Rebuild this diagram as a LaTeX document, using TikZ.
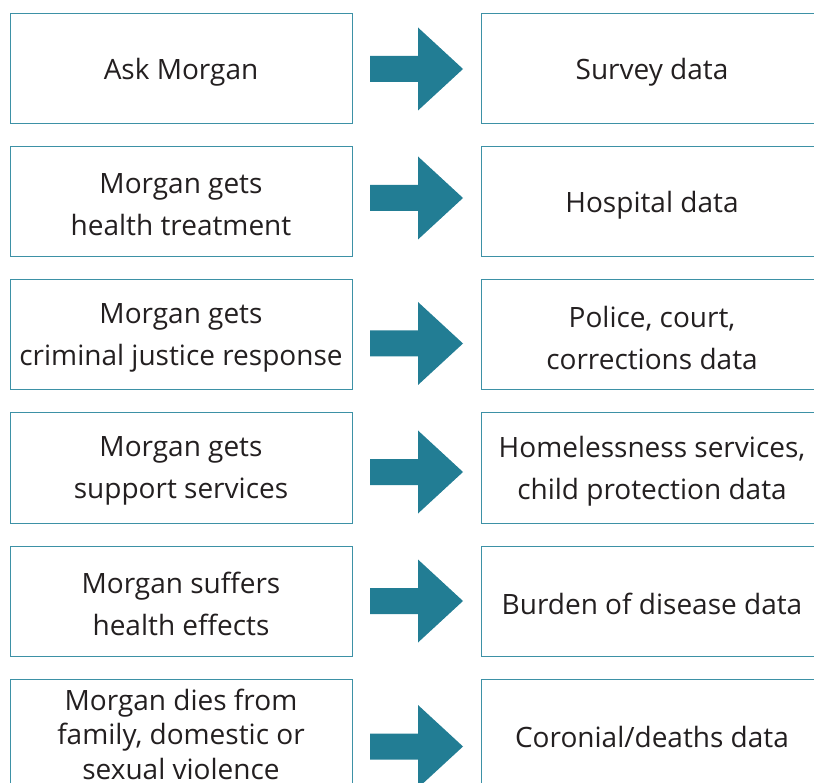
\documentclass[tikz,border=0pt]{standalone}
\usepackage{fontspec}
\setmainfont{Open Sans}
\usetikzlibrary{calc}
\definecolor{boxline}{HTML}{3D91A6}
\definecolor{arrowfill}{HTML}{227D94}
\definecolor{txt}{HTML}{231F20}
\begin{document}
\begin{tikzpicture}[x=1pt,y=-1pt,
  boxtext/.style={inner sep=0pt,align=center,text=txt,font=\fontsize{28}{42}\selectfont},
  frame/.style={append after command={
      ($(\tikzlastnode.center)+(-171,#1)$) edge[draw=boxline,line width=1pt,to path={rectangle ++(342,110)}] ()}},
  box/.style={boxtext,yshift=-3pt,frame=-58},
  tightbox/.style={boxtext,font=\fontsize{28}{34.5}\selectfont,frame=-55},
  blockarrow/.style={fill=arrowfill}]
\useasboundingbox (0,0) rectangle (814,783);
\clip (0,0) rectangle (814,783);
% left boxes
\node[box] (l1) at (181,69) {Ask Morgan};
\node[box] (l2) at (181,202) {Morgan gets\\health treatment};
\node[box] (l3) at (181,335) {Morgan gets\\criminal justice response};
\node[box] (l4) at (181,468) {Morgan gets\\support services};
\node[box] (l5) at (181,601) {Morgan suffers\\health effects};
\node[tightbox] (l6) at (181,734) {Morgan dies from\\family, domestic or\\sexual violence};
% right boxes
\node[box] (r1) at (652,69) {Survey data};
\node[box] (r2) at (652,202) {Hospital data};
\node[box] (r3) at (652,335) {Police, court,\\corrections data};
\node[box] (r4) at (652,468) {Homelessness services,\\child protection data};
\node[box] (r5) at (652,601) {Burden of disease data};
\node[box] (r6) at (652,734) {Coronial/deaths data};
% block arrows
\foreach \yc in {69,198,343.5,472,601,746.5}{
  \fill[blockarrow] (370,\yc-13) -- (418,\yc-13) -- (418,\yc-41.5) -- (463,\yc)
    -- (418,\yc+41.5) -- (418,\yc+13) -- (370,\yc+13) -- cycle;
}
\end{tikzpicture}
\end{document}
